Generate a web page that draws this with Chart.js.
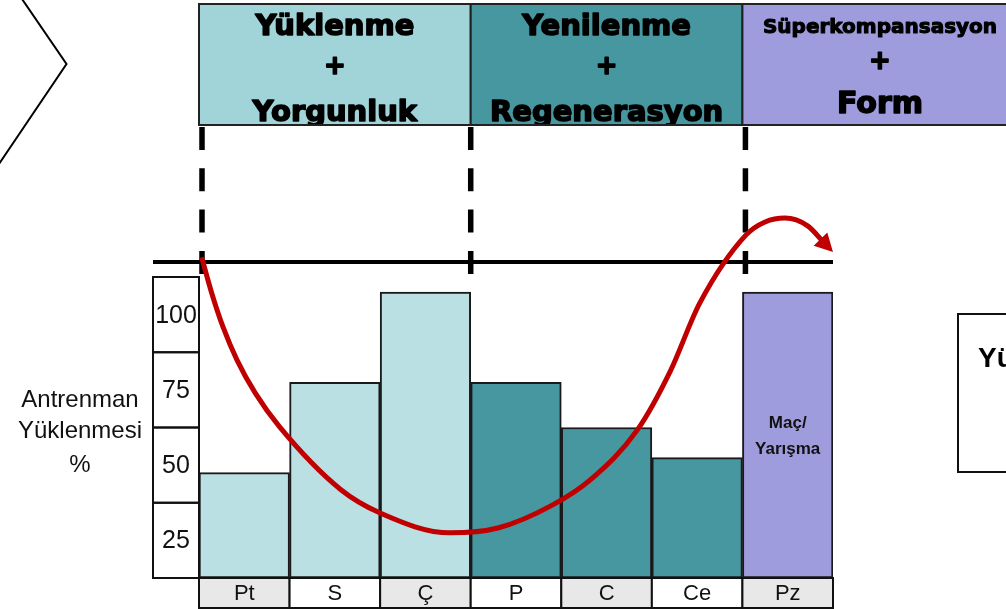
<!DOCTYPE html>
<html><head><meta charset="utf-8">
<script src="https://cdn.jsdelivr.net/npm/chart.js@4"></script>
<style>html,body{margin:0;padding:0;background:#fff;overflow:hidden}#wrap{position:relative;width:1006px;height:609px}</style>
</head><body><div id="wrap"><canvas id="c" width="1006" height="609"></canvas></div>
<script>
// ---- data ----
const days = ['Pt','S','Ç','P','C','Ce','Pz'];
const load = [35, 65, 95, 65, 50, 40, 95];
const yTicks = [100, 75, 50, 25];
const curveX = [0.03, 0.14, 0.265, 0.42, 0.62, 0.89, 1.56, 2.0, 2.77, 3.3, 3.9, 4.32, 4.84, 5.2, 5.53, 6.04, 6.25, 6.47, 6.72, 7.0];
const curveY = [106.5, 94.7, 83.4, 72.4, 61.5, 50.2, 29.5, 21.6, 15.0, 16.6, 24.2, 32.6, 49.2, 68.5, 91.4, 114, 118.3, 119.6, 117.0, 108.3];
const phaseTitles = [['Yüklenme','+','Yorgunluk'],['Yenilenme','+','Regenerasyon'],['Süperkompansasyon','+','Form']];
const phaseStart = [0, 3, 6];
const phaseEnd = [3, 6, 9];
const baselineLevel = 105;
const axisTitle = ['Antrenman','Yüklenmesi','%'];
const matchLabel = ['Maç/','Yarışma'];
const sideBoxTitle = 'Yüklenme';

// ---- styles ----
const LIGHT='#BBE0E3', DARK='#46979F', PURPLE='#9F9CDD';
const barColors = [LIGHT,LIGHT,LIGHT,DARK,DARK,DARK,PURPLE];
const phaseColors = ['#A0D4D8', DARK, PURPLE];
const SANS = '"Liberation Sans", Arial, sans-serif';
const HEAD = '"DejaVu Sans", sans-serif';

const deco = {
  id:'deco',
  beforeDatasetsDraw(chart){
    const ctx = chart.ctx, xc = chart.scales.xc, y = chart.scales.y;
    ctx.save();
    // chevron
    ctx.strokeStyle='#000'; ctx.lineWidth=2;
    ctx.beginPath(); ctx.moveTo(22,-1); ctx.lineTo(66.5,64); ctx.lineTo(-1,164); ctx.stroke();
    // header boxes
    const hTop=4, hBot=125;
    const lineStyle = [
      [{f:29,b:35},{f:26,b:67,m:true},{f:29,b:121}],
      [{f:29,b:35},{f:26,b:67,m:true},{f:29,b:121}],
      [{f:20,b:33},{f:26,b:62,m:true},{f:30,b:113}]
    ];
    phaseTitles.forEach((lines,i)=>{
      const x0 = xc.getPixelForValue(phaseStart[i]), x1 = xc.getPixelForValue(phaseEnd[i]);
      ctx.fillStyle = phaseColors[i];
      ctx.fillRect(x0,hTop,x1-x0,hBot-hTop);
      ctx.save();
      ctx.beginPath(); ctx.rect(x0,hTop,x1-x0,hBot-hTop); ctx.clip();
      ctx.fillStyle='#000'; ctx.strokeStyle='#000'; ctx.lineJoin='round'; ctx.textAlign='center';
      const cx = i===2 ? 880 : (x0+x1)/2;
      lines.forEach((t,j)=>{
        const s = lineStyle[i][j];
        ctx.font = 'bold '+s.f+'px '+HEAD;
        ctx.lineWidth = s.f>22 ? 1.6 : 1.1;
        ctx.textBaseline = s.m ? 'middle' : 'alphabetic';
        ctx.fillText(t, cx, s.b);
        ctx.strokeText(t, cx, s.b);
      });
      ctx.restore();
      ctx.strokeStyle='#222'; ctx.lineWidth=2;
      ctx.strokeRect(x0,hTop,x1-x0,hBot-hTop);
    });
    // dashed vertical lines
    ctx.strokeStyle='#000'; ctx.lineWidth=5.5; ctx.setLineDash([23,18.3]);
    const offs=[3,0,3];
    phaseStart.forEach((p,i)=>{
      const x = xc.getPixelForValue(p)+offs[i];
      ctx.beginPath(); ctx.moveTo(x,127); ctx.lineTo(x,275); ctx.stroke();
    });
    ctx.setLineDash([]);
    // horizontal reference line
    const yl = y.getPixelForValue(baselineLevel);
    ctx.lineWidth=4;
    ctx.beginPath(); ctx.moveTo(153,yl); ctx.lineTo(xc.getPixelForValue(7),yl); ctx.stroke();
    ctx.restore();
  },
  afterDatasetsDraw(chart){
    const ctx = chart.ctx, xc = chart.scales.xc, y = chart.scales.y, x = chart.scales.x;
    ctx.save();
    // y axis boxes
    ctx.strokeStyle='#111'; ctx.lineWidth=2;
    ctx.font='25px '+SANS; ctx.fillStyle='#111'; ctx.textAlign='center'; ctx.textBaseline='middle';
    yTicks.forEach(t=>{
      const top=y.getPixelForValue(t), bot=y.getPixelForValue(t-25);
      ctx.strokeRect(153,top,46,bot-top);
      ctx.fillText(String(t),176,(top+bot)/2+1);
    });
    // axis title
    ctx.font='24px '+SANS;
    const ty=[400,431,465];
    axisTitle.forEach((t,i)=>ctx.fillText(t,80,ty[i]));
    // category cells
    const b0 = y.getPixelForValue(0);
    days.forEach((d,i)=>{
      const x0=xc.getPixelForValue(i), x1=xc.getPixelForValue(i+1);
      ctx.fillStyle = i%2===0 ? '#E8E8E8' : '#FFFFFF';
      ctx.fillRect(x0,b0,x1-x0,30);
      ctx.strokeStyle='#111'; ctx.lineWidth=2;
      ctx.strokeRect(x0,b0,x1-x0,30);
      ctx.fillStyle='#111'; ctx.font='22px '+SANS;
      ctx.fillText(d,(x0+x1)/2,b0+16);
    });
    // match label
    ctx.font='bold 17px '+SANS; ctx.fillStyle='#111';
    const mx = x.getPixelForValue(6);
    ctx.fillText(matchLabel[0],mx,423);
    ctx.fillText(matchLabel[1],mx,449);
    // right side box
    ctx.strokeStyle='#111'; ctx.lineWidth=2;
    ctx.strokeRect(958,314,80,158);
    ctx.font='bold 28px '+SANS; ctx.textAlign='left'; ctx.fillStyle='#000';
    ctx.fillText(sideBoxTitle,978,359);
    // arrow head
    const n=curveX.length;
    const tx=xc.getPixelForValue(curveX[n-1]), tyy=y.getPixelForValue(curveY[n-1]);
    const px=xc.getPixelForValue(curveX[n-2]), py=y.getPixelForValue(curveY[n-2]);
    const ang=Math.atan2(tyy-py,tx-px);
    const L=18, W=9.5;
    ctx.fillStyle='#C00000';
    ctx.beginPath();
    ctx.moveTo(tx,tyy);
    ctx.lineTo(tx-L*Math.cos(ang)+W*Math.sin(ang), tyy-L*Math.sin(ang)-W*Math.cos(ang));
    ctx.lineTo(tx-L*Math.cos(ang)-W*Math.sin(ang), tyy-L*Math.sin(ang)+W*Math.cos(ang));
    ctx.closePath(); ctx.fill();
    ctx.restore();
  }
};

const n = curveX.length;
const curvePts = curveX.slice(0,-1).map((v,i)=>({x:v,y:curveY[i]}));
curvePts.push({x:(curveX[n-2]+curveX[n-1]*2)/3, y:(curveY[n-2]+curveY[n-1]*2)/3});

new Chart(document.getElementById('c'),{
  type:'bar',
  data:{
    labels:days,
    datasets:[
      {type:'line', data:curvePts,
       xAxisID:'xc', yAxisID:'y', borderColor:'#C00000', borderWidth:5, pointRadius:0, cubicInterpolationMode:'monotone', fill:false, clip:false, order:0},
      {data:load, xAxisID:'x', yAxisID:'y', backgroundColor:barColors, borderColor:'#1a1a1a', borderWidth:2, borderSkipped:false,
       barPercentage:1, categoryPercentage:1, grouped:false, order:1}
    ]
  },
  options:{
    responsive:false, animation:false, devicePixelRatio:1,
    layout:{padding:{left:199,right:173,top:277,bottom:31}},
    plugins:{legend:{display:false},tooltip:{enabled:false}},
    scales:{
      x:{type:'category',display:false,offset:true},
      xc:{type:'linear',display:false,min:0,max:7,offset:false},
      y:{display:false,min:0,max:100}
    }
  },
  plugins:[deco]
});
</script></body></html>
